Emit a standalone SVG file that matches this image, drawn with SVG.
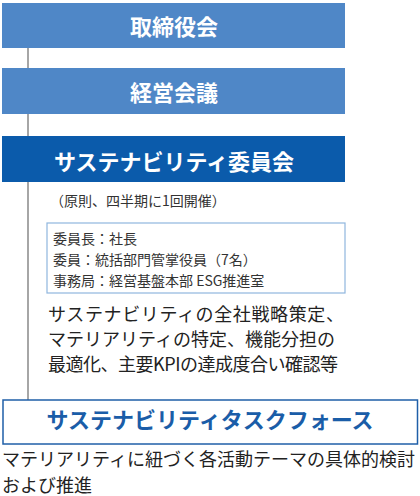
<svg xmlns="http://www.w3.org/2000/svg" width="420" height="496" viewBox="0 0 420 496">
<style>
.jp{font-family:"Noto Sans CJK JP","Noto Sans",sans-serif}
.head{font-weight:bold;fill:#ffffff;font-size:22px;text-anchor:middle}
.light{fill:#4f87c7}
.dark{fill:#0b5bab}
.note{fill:#333333;font-size:14px}
.desc{fill:#222222;font-size:18px}
</style>
<rect width="420" height="496" fill="#ffffff"/>
<g id="connectors">
<line x1="28" y1="48" x2="28" y2="400" stroke="#a6a6a6" stroke-width="2"/>
</g>
<g id="board">
<rect class="light" x="2" y="3" width="343" height="45"/>
<text class="jp head" x="174" y="35">取締役会</text>
</g>
<g id="management">
<rect class="light" x="2" y="68" width="343" height="46"/>
<text class="jp head" x="174" y="101">経営会議</text>
</g>
<g id="committee">
<rect class="dark" x="2" y="136" width="343" height="46"/>
<text class="jp head" x="174" y="170">サステナビリティ委員会</text>
<text class="jp note" x="50" y="206">（原則、四半期に1回開催）</text>
<rect x="47" y="223" width="298" height="70" fill="#ffffff" stroke="#8fb6de" stroke-width="1.2"/>
<text class="jp note" x="53" y="244">委員長：社長</text>
<text class="jp note" x="53" y="265">委員：統括部門管掌役員（7名）</text>
<text class="jp note" x="53" y="286">事務局：経営基盤本部 ESG推進室</text>
<text class="jp desc" x="48" y="321" textLength="296" lengthAdjust="spacing">サステナビリティの全社戦略策定、</text>
<text class="jp desc" x="48" y="346">マテリアリティの特定、機能分担の</text>
<text class="jp desc" x="48" y="371" textLength="290" lengthAdjust="spacing">最適化、主要KPIの達成度合い確認等</text>
</g>
<g id="taskforce">
<rect x="3" y="400" width="414.5" height="44" fill="#ffffff" stroke="#1f5fa8" stroke-width="1.5"/>
<text class="jp" x="210" y="428" font-size="22" font-weight="bold" fill="#1a5da8" text-anchor="middle">サステナビリティタスクフォース</text>
<text class="jp desc" x="2" y="466">マテリアリティに紐づく各活動テーマの具体的検討</text>
<text class="jp desc" x="2" y="492">および推進</text>
</g>
</svg>
